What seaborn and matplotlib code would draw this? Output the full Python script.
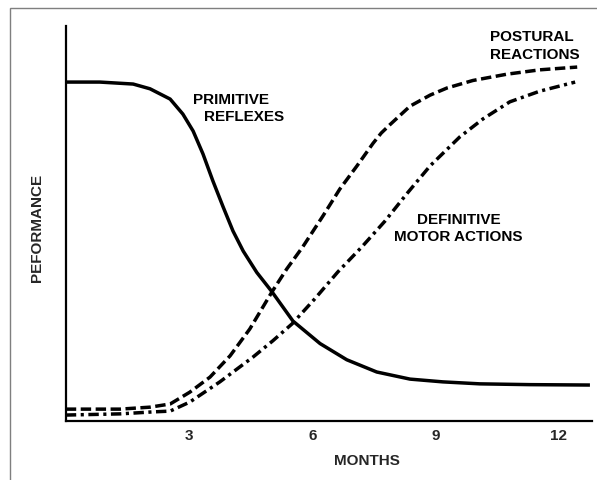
import numpy as np
import pandas as pd
import matplotlib
matplotlib.use("Agg")
import matplotlib.pyplot as plt
import matplotlib.patches as mpatches
import seaborn as sns

# ---- data (months, performance %) ----
reflex_x = [0.0, 0.83, 1.64, 2.05, 2.54, 2.85, 3.10, 3.34, 3.58, 3.83, 4.07,
            4.32, 4.65, 5.02, 5.53, 6.19, 6.84, 7.57, 8.38, 9.18, 10.08, 11.30, 12.76]
reflex_y = [85.8, 85.8, 85.3, 84.1, 81.5, 77.7, 73.4, 67.6, 60.8, 54.2, 48.1,
            43.0, 37.6, 32.7, 25.3, 19.6, 15.5, 12.4, 10.6, 9.9, 9.4, 9.2, 9.1]

postural_x = [0.0, 1.32, 2.05, 2.54, 3.02, 3.51, 4.00, 4.48, 5.02, 5.38, 5.77,
              6.26, 6.67, 7.09, 7.48, 7.68, 7.89, 8.38, 8.87, 9.28, 9.91, 10.74,
              11.54, 12.45]
postural_y = [3.0, 3.0, 3.5, 4.3, 7.3, 11.1, 16.5, 23.3, 32.7, 38.5, 44.1,
              51.9, 58.7, 64.6, 70.3, 72.9, 75.0, 79.7, 82.5, 84.3, 86.2, 87.8,
              88.9, 89.6]

motor_x = [0.0, 1.32, 2.12, 2.54, 3.02, 3.75, 4.56, 5.04, 5.51, 6.06, 6.62,
           7.21, 7.77, 8.30, 8.87, 9.59, 10.16, 10.81, 11.54, 12.40]
motor_y = [1.5, 1.8, 2.3, 2.5, 4.8, 9.9, 16.2, 20.3, 24.6, 30.9, 37.7,
           44.1, 50.6, 57.5, 64.6, 71.9, 76.5, 80.8, 83.5, 85.8]

curve_names = ["PRIMITIVE REFLEXES", "POSTURAL REACTIONS", "DEFINITIVE MOTOR ACTIONS"]
x_ticks = [3, 6, 9, 12]
x_label = "MONTHS"
y_label = "PEFORMANCE"

df = pd.concat([
    pd.DataFrame({"month": reflex_x, "perf": reflex_y, "curve": curve_names[0]}),
    pd.DataFrame({"month": postural_x, "perf": postural_y, "curve": curve_names[1]}),
    pd.DataFrame({"month": motor_x, "perf": motor_y, "curve": curve_names[2]}),
], ignore_index=True)

sns.set_style("white")
plt.rcParams["font.family"] = ["Liberation Sans", "DejaVu Sans"]

fig = plt.figure(figsize=(5.97, 4.81), dpi=100)
ax = fig.add_axes([0.1102, 0.1227, 0.8814, 0.8212])

sns.lineplot(
    data=df, x="month", y="perf", hue="curve", style="curve",
    palette=["black"] * 3,
    dashes={curve_names[0]: "", curve_names[1]: (3.0, 1.3),
            curve_names[2]: (3.0, 1.3, 0.9, 1.3)},
    linewidth=2.5, legend=False, ax=ax, estimator=None, sort=True,
)
for ln in ax.lines:
    ln.set_dash_capstyle("butt")
    ln.set_solid_capstyle("butt")
    ln.set_solid_joinstyle("round")
    ln.set_dash_joinstyle("round")

ax.set_xlim(0, 12.81)
ax.set_ylim(0, 100)

for s in ["top", "right"]:
    ax.spines[s].set_visible(False)
for s in ["left", "bottom"]:
    ax.spines[s].set_color("black")
    ax.spines[s].set_linewidth(1.6)

ax.set_xticks(x_ticks)
ax.set_xticklabels([str(t) for t in x_ticks], fontsize=11, fontweight="bold")
ax.tick_params(axis="x", direction="in", length=6, width=1.4, color="black", pad=5)
ax.set_yticks([])

ax.set_xlabel(x_label, fontsize=11, fontweight="bold")
ax.xaxis.set_label_coords(0.572, -0.08)
ax.set_ylabel(y_label, fontsize=11, fontweight="bold")
ax.yaxis.set_label_coords(-0.041, 0.49)

tk = dict(fontsize=11, fontweight="bold", color="black", va="center")
ax.text(3.10, 81.5, "PRIMITIVE", ha="left", **tk)
ax.text(3.37, 77.2, "REFLEXES", ha="left", **tk)
ax.text(10.33, 97.4, "POSTURAL", ha="left", **tk)
ax.text(10.33, 92.8, "REACTIONS", ha="left", **tk)
ax.text(9.56, 51.1, "DEFINITIVE", ha="center", **tk)
ax.text(9.56, 46.8, "MOTOR ACTIONS", ha="center", **tk)

# outer frame (partially cropped in reference)
frame = mpatches.Rectangle((9.5 / 597, -0.2), 1.2, (481 - 9.3) / 481 + 0.2,
                           transform=fig.transFigure, fill=False,
                           edgecolor="#7f7f7f", linewidth=1.0)
fig.add_artist(frame)

fig.savefig("out.png", dpi=100)
